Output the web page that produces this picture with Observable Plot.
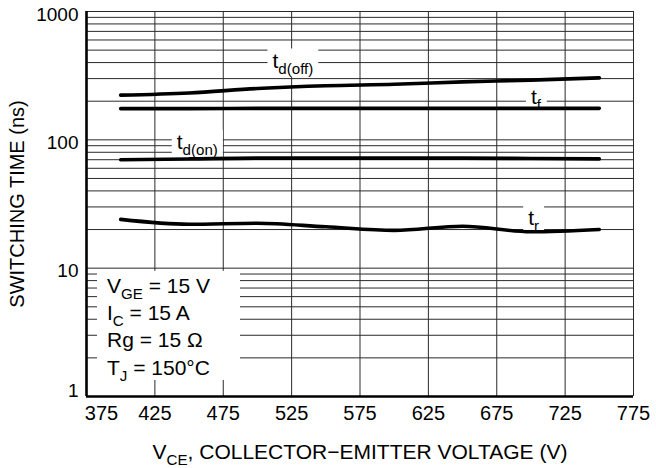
<!DOCTYPE html>
<html><head><meta charset="utf-8">
<script src="https://cdn.jsdelivr.net/npm/d3@7"></script>
<script src="https://cdn.jsdelivr.net/npm/@observablehq/plot@0.6"></script>
<style>body{margin:0;background:#fff;} svg{overflow:visible}</style>
</head><body><div id="chart"></div>
<script>
// ---- data ----
const vce   = [400, 450, 500, 550, 600, 650, 700, 750];
const tdoff = [223, 232, 251, 264, 271, 283, 292, 304];
const tf    = [175, 175, 176, 176, 176, 176, 176, 176];
const tdon  = [70, 71, 72, 72, 72, 72, 71.5, 71];
const tr    = [24, 22, 22.4, 21, 19.7, 21.2, 19.2, 20];
const seriesNames = ["td(off)", "tf", "td(on)", "tr"];
const xTicks = [375, 425, 475, 525, 575, 625, 675, 725, 775];
const yTickLabels = [1, 10, 100, 1000];
const yGrid = [1,2,3,4,5,6,7,8,9,10,20,30,40,50,60,70,80,90,100,200,300,400,500,600,700,800,900,1000];
const labelText = ["t_{d(off)}", "t_{f}", "t_{d(on)}", "t_{r}"];
const labelX = [511, 700, 441, 698];
const labelY = [413, 216, 96, 24.5];
const conditions = ["V_{GE} = 15 V", "I_{C} = 15 A", "Rg = 15 Ω", "T_{J} = 150°C"];
const xTitle = "V_{CE}, COLLECTOR\u2212EMITTER VOLTAGE (V)";
const yTitle = "SWITCHING TIME (ns)";

const seriesVals = [tdoff, tf, tdon, tr];
const rows = [];
seriesNames.forEach((s, i) => vce.forEach((v, j) => rows.push({series: s, vce: v, t: seriesVals[i][j]})));
const labels = labelText.map((t, i) => ({text: t, x: labelX[i], y: labelY[i]}));

const font = "'Liberation Sans', Arial, Helvetica, sans-serif";
const plot = Plot.plot({
  width: 656, height: 468,
  marginLeft: 86, marginRight: 23, marginTop: 11, marginBottom: 72,
  style: {fontFamily: font, color: "#000", background: "#fff"},
  x: {type: "linear", domain: [375, 775]},
  y: {type: "log", domain: [1, 1000]},
  marks: [
    Plot.ruleY(yGrid, {stroke: "#2a2a2a", strokeWidth: 1}),
    Plot.ruleX(xTicks, {stroke: "#2a2a2a", strokeWidth: 1}),
    Plot.ruleX([375], {stroke: "#000", strokeWidth: 2.6}),
    Plot.ruleY([1], {stroke: "#000", strokeWidth: 2.6}),
    Plot.line(rows, {x: "vce", y: "t", z: "series", stroke: "#000", strokeWidth: 3.6, curve: "monotone-x", strokeLinecap: "round"}),
    Plot.axisX({ticks: xTicks.slice(0, 1), tickSize: 0, tickPadding: 9, dx: 15, fontSize: 20, label: null, tickFormat: d => String(d)}),
    Plot.axisX({ticks: xTicks.slice(1), tickSize: 0, tickPadding: 9, fontSize: 20, label: null, tickFormat: d => String(d)}),
    Plot.axisY({ticks: yTickLabels.slice(0, 1), tickSize: 0, tickPadding: 8, dy: -6, fontSize: 19, label: null, tickFormat: d => String(d)}),
    Plot.axisY({ticks: yTickLabels.slice(1), tickSize: 0, tickPadding: 8, dy: 3, fontSize: 19, label: null, tickFormat: d => String(d)}),
    Plot.text(labels, {x: "x", y: "y", text: "text", textAnchor: "start", fontSize: 21, fill: "#000"}),
    Plot.text([conditions.join("\n")], {x: 390, y: 9.1, text: d => d, textAnchor: "start", lineAnchor: "top", lineHeight: 1.3, fontSize: 21, fill: "#000"}),
    Plot.text([xTitle], {frameAnchor: "bottom", dy: 62, text: d => d, textAnchor: "middle", fontSize: 21, fill: "#000"}),
    Plot.text([yTitle], {frameAnchor: "left", dx: -69, rotate: -90, text: d => d, textAnchor: "middle", fontSize: 20, fill: "#000"})
  ]
});
document.getElementById("chart").appendChild(plot);

// subscripts
const ns = "http://www.w3.org/2000/svg";
plot.querySelectorAll("text, tspan").forEach(el => {
  if (el.children.length) return;
  const s = el.textContent;
  if (!s.includes("_{")) return;
  const fs = parseFloat(getComputedStyle(el).fontSize) || 21;
  el.textContent = "";
  const re = /_\{([^}]*)\}/g; let last = 0, m, shift = 0;
  const addNormal = str => {
    const t = document.createElementNS(ns, "tspan"); t.textContent = str;
    if (shift) { t.setAttribute("dy", -shift); shift = 0; }
    el.appendChild(t);
  };
  while ((m = re.exec(s))) {
    if (m.index > last) addNormal(s.slice(last, m.index));
    const sub = document.createElementNS(ns, "tspan");
    sub.textContent = m[1];
    sub.setAttribute("font-size", (fs * 0.72).toFixed(1));
    sub.setAttribute("dy", (fs * 0.3).toFixed(1));
    shift = fs * 0.3;
    el.appendChild(sub);
    last = re.lastIndex;
  }
  if (last < s.length) addNormal(s.slice(last));
});

// white background boxes behind annotations (cover grid, under curves)
const textGroups = [...plot.querySelectorAll('g[aria-label="text"]')];
const lineGroup = plot.querySelector('g[aria-label="line"]');
const bg = document.createElementNS(ns, "g");
plot.insertBefore(bg, lineGroup);
function addBox(b, l, r, t, btm) {
  const rc = document.createElementNS(ns, "rect");
  rc.setAttribute("x", b.x - l); rc.setAttribute("y", b.y - t);
  rc.setAttribute("width", b.width + l + r); rc.setAttribute("height", b.height + t + btm);
  rc.setAttribute("fill", "#fff");
  bg.appendChild(rc);
}
function absBox(el) {
  const b = el.getBBox();
  const pt = plot.createSVGPoint();
  const ctm = plot.getScreenCTM().inverse().multiply(el.getScreenCTM());
  pt.x = b.x; pt.y = b.y; const p1 = pt.matrixTransform(ctm);
  pt.x = b.x + b.width; pt.y = b.y + b.height; const p2 = pt.matrixTransform(ctm);
  return {x: Math.min(p1.x, p2.x), y: Math.min(p1.y, p2.y), width: Math.abs(p2.x - p1.x), height: Math.abs(p2.y - p1.y)};
}
// curve labels
textGroups[0].querySelectorAll("text").forEach(t => addBox(absBox(t), 5, 5, 0, 0));
// conditions box
textGroups[1].querySelectorAll("text").forEach(t => addBox(absBox(t), 10, 30, 3, -4));
</script>
</body></html>
